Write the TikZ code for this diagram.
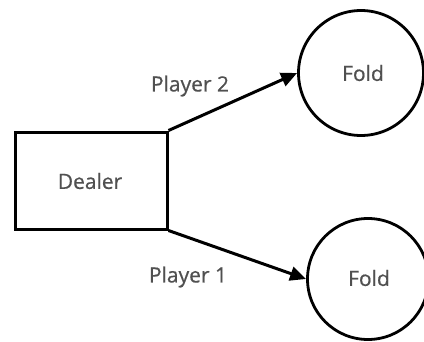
\documentclass[tikz,border=0pt]{standalone}
\usepackage{fontspec}
\setmainfont{Open Sans}[FakeBold=0.6]
\usetikzlibrary{arrows.meta}
\definecolor{txt}{HTML}{505050}
\tikzset{
  box/.style={draw=black, line width=3pt, minimum width=152pt, minimum height=97pt, inner sep=0pt},
  state/.style={draw=black, circle, line width=2.8pt, inner sep=0pt},
  lbl/.style={text=txt, font=\fontsize{21}{25}\selectfont},
  conn/.style={line width=3pt, -{Triangle[length=16pt,width=14pt]}}
}
\begin{document}
\begin{tikzpicture}[x=1pt,y=-1pt]
\useasboundingbox (0,0) rectangle (424,341);
\node[box] (dealer) at (91,180.5) {};
\node[lbl] (dealertext) at (90,181) {Dealer};
\node[state, minimum size=125pt] (fold2) at (361,73) {};
\node[lbl] (fold2text) at (363,73) {Fold};
\node[state, minimum size=121pt] (fold1) at (368,279) {};
\node[lbl] (fold1text) at (369,278) {Fold};
\draw[conn] (dealer.north east) -- (fold2.west);
\draw[conn] (dealer.south east) -- (fold1.west);
\node[lbl] (p2) at (190,86) {Player 2};
\node[lbl] (p1) at (188,277) {Player 1};
\end{tikzpicture}
\end{document}
